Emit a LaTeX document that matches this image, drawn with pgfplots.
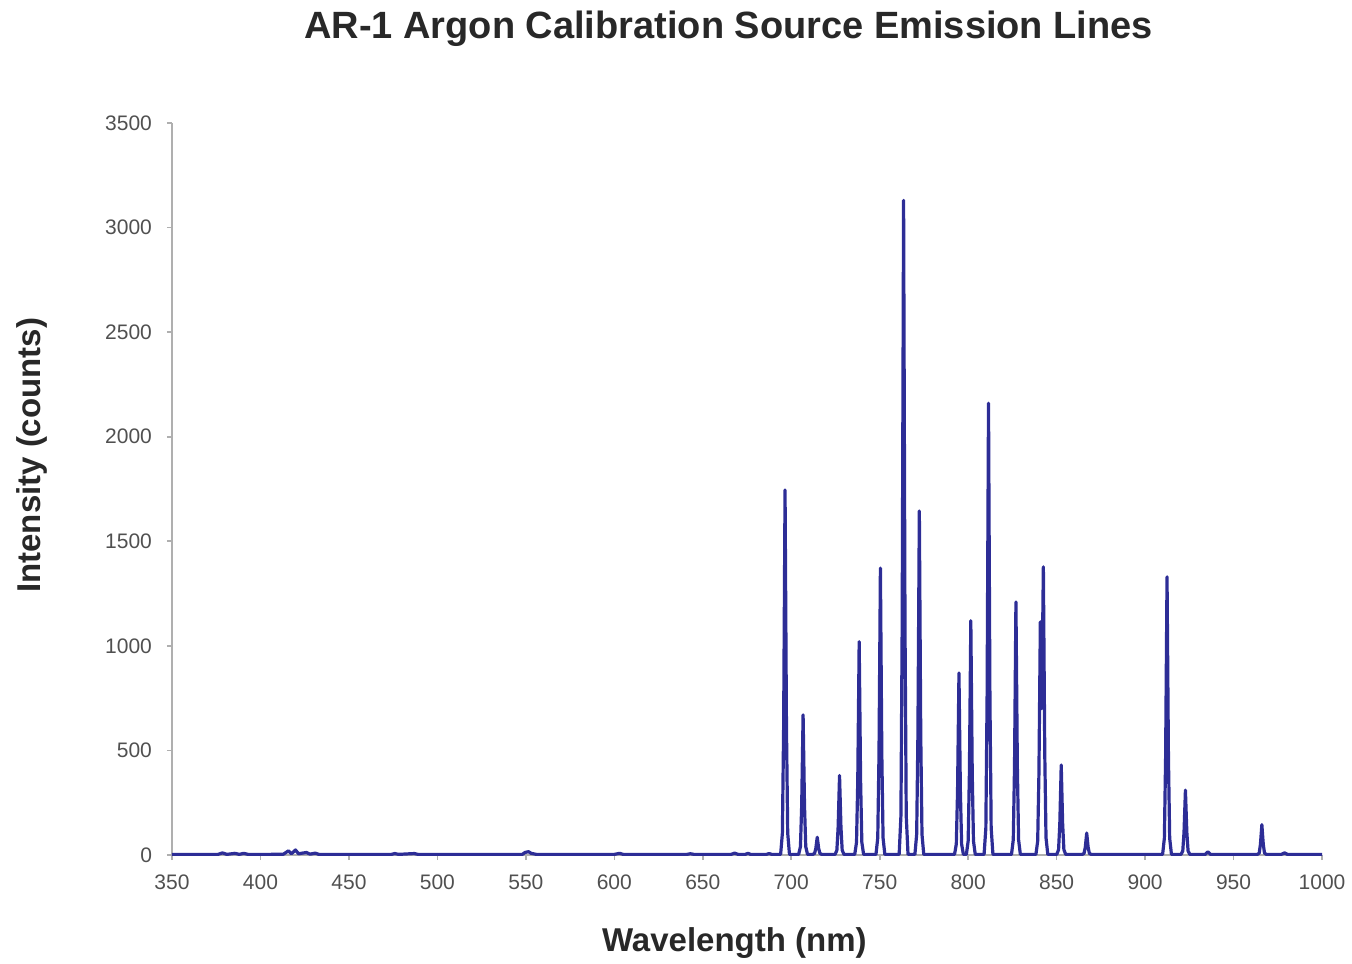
\documentclass[border=0pt]{standalone}
\usepackage{fontspec}
\setmainfont{Liberation Sans}
\usepackage{pgfplots}
\pgfplotsset{compat=1.18}

\definecolor{specblue}{RGB}{45,45,150}
\definecolor{axisgray}{RGB}{175,175,175}
\definecolor{ticktext}{RGB}{80,80,80}
\definecolor{labeltext}{RGB}{40,40,40}

\begin{document}
\begin{tikzpicture}
\begin{axis}[
    scale only axis,
    width=575pt, height=366pt,
    xmin=350, xmax=1000,
    ymin=0, ymax=3500,
    xtick={350,400,...,1000},
    ytick={0,500,...,3500},
    axis lines*=left,
    axis line style={axisgray, line width=0.8pt},
    tick style={axisgray, line width=0.8pt},
    tick align=outside,
    major tick length=2.5pt,
    /pgf/number format/assume math mode=true,
    /pgf/number format/set thousands separator={},
    ticklabel style={font=\fontsize{10.5}{12}\selectfont, text=ticktext},
    xticklabel style={yshift=-4pt},
    yticklabel style={xshift=-4pt},
    every axis title/.style={at={(axis description cs:0.484,1.129)}, anchor=center,
        font=\fontsize{19}{22}\selectfont\bfseries, text=labeltext},
    every axis x label/.style={at={(axis description cs:0.489,-0.120)}, anchor=center,
        font=\fontsize{16.5}{19}\selectfont\bfseries, text=labeltext},
    every axis y label/.style={at={(axis description cs:-0.1217,0.546)}, anchor=center, rotate=90,
        font=\fontsize{16.5}{19}\selectfont\bfseries, text=labeltext},
    title={AR-1 Argon Calibration Source Emission Lines},
    xlabel={Wavelength (nm)},
    ylabel={Intensity (counts)},
    clip=false,
]
\addplot[specblue, line width=1.6pt, line join=round] coordinates {
  (350,3) (370,3) (376,3) (378.5,10) (381,3) (385.6,8) (388,3) (390.6,8) (393,3)
  (405,3) (413,4) (415.8,20) (417.5,6) (419.8,24) (421.5,6) (426,12) (428,4) (431,9) (433,3)
  (450,3) (474,3) (476,7) (478,3) (487,7) (489,3) (520,3) (548,3) (549.5,12) (551.5,16) (553,8) (556,3)
  (600,3) (603,8) (605,3) (641,3) (643,6) (645,3) (666,3) (668,9) (670,3) (674,3) (675.6,8) (677,3)
  (686,3) (687.5,7) (689,3) (692,3)
  (694,3) (695,105) (695.7,611) (696.5,1745) (697.3,611) (698,105) (699,3)
  (704.2,3) (705.2,40) (705.9,235) (706.7,670) (707.5,235) (708.2,40) (709.2,3)
  (712.2,3) (713.2,8) (713.9,32) (714.7,85) (715.5,32) (716.2,8) (717.2,3)
  (724.8,3) (725.8,23) (726.5,133) (727.3,380) (728.1,133) (728.8,23) (729.8,3)
  (735.9,3) (736.9,61) (737.6,357) (738.4,1020) (739.2,357) (739.9,61) (740.9,3)
  (747.9,3) (748.9,82) (749.6,480) (750.4,1372) (751.2,480) (751.9,82) (752.9,3)
  (761,3) (762,188) (762.7,1096) (763.5,3130) (764.3,1096) (765,188) (766,3)
  (769.9,3) (770.9,99) (771.6,576) (772.4,1645) (773.2,576) (773.9,99) (774.9,3)
  (792.3,3) (793.3,52) (794,305) (794.8,870) (795.6,305) (796.3,52) (797.3,3)
  (799,3) (800,67) (800.7,392) (801.5,1120) (802.3,392) (803,67) (804,3)
  (809,3) (810,130) (810.7,756) (811.5,2160) (812.3,756) (813,130) (814,3)
  (824.5,3) (825.5,73) (826.2,424) (827,1210) (827.8,424) (828.5,73) (829.5,3)
  (838.3,3) (839.3,67) (840,390) (840.8,1115) (841.6,700) (842.5,1378) (843.3,482) (844,83) (845,3)
  (850.1,3) (851.1,26) (851.8,150) (852.6,430) (853.4,150) (854.1,26) (855.1,3)
  (864.5,3) (865.5,8) (866.2,37) (867,105) (867.8,37) (868.5,8) (869.5,3)
  (909.9,3) (910.9,80) (911.6,466) (912.4,1330) (913.2,466) (913.9,80) (914.9,3)
  (920.3,3) (921.3,19) (922,108) (922.8,310) (923.6,108) (924.3,19) (925.3,3)
  (934,3) (935.5,15) (937,3)
  (963.5,3) (964.5,9) (965.2,51) (966,145) (966.8,51) (967.5,9) (968.5,3)
  (977,3) (978.8,10) (980.5,3) (1000,3)
};
\end{axis}
\pgfresetboundingbox
\useasboundingbox ([xshift=-86pt,yshift=-54pt]current axis.south west)
  rectangle ([xshift=15pt,yshift=61.5pt]current axis.north east);
\end{tikzpicture}
\end{document}
